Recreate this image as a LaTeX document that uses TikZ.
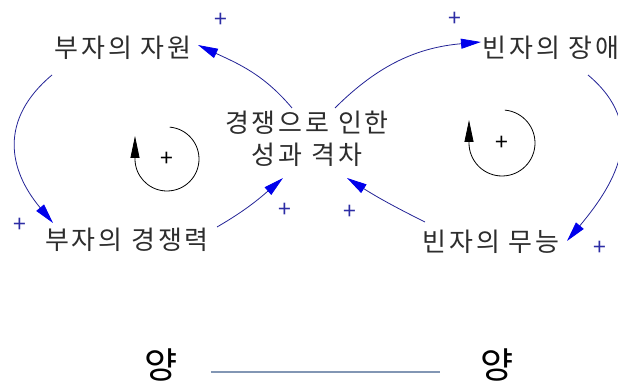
\documentclass[tikz,border=0pt]{standalone}
\usepackage{fontspec}
\newfontfamily\kr[LetterSpace=11]{Noto Sans CJK KR}
\newfontfamily\krb{Noto Sans CJK KR}
\usetikzlibrary{arrows.meta}
\definecolor{lnk}{RGB}{35,35,150}
\definecolor{tipc}{RGB}{0,0,235}
\definecolor{plc}{RGB}{45,45,165}
\definecolor{txt}{RGB}{45,45,45}
\definecolor{bar}{RGB}{130,150,180}
\begin{document}
\begin{tikzpicture}[x=1pt,y=1pt,
  lbl/.style={font=\kr\fontsize{26}{32}\selectfont, text=txt, inner sep=0pt},
  plus/.style={font=\krb\fontsize{23}{23}\selectfont, text=plc, inner sep=0pt},
  lplus/.style={font=\krb\fontsize{23}{23}\selectfont, text=black, inner sep=0pt},
  lnkarr/.style={draw=lnk, line width=0.8pt, -{Triangle[length=20pt,width=10pt,color=tipc]}},
  looparr/.style={draw=black, line width=0.8pt, -{Triangle[length=22pt,width=9pt,color=black]}},
  big/.style={font=\krb\fontsize{36}{36}\selectfont, text=black, inner sep=0pt}
]
\useasboundingbox (0,0) rectangle (618,387);
% labels
\node[lbl] (zawon) at (123,339) {부자의 자원};
\node[lbl] (gyeong) at (127,147) {부자의 경쟁력};
\node[lbl, align=center] (gap) at (307,248) {경쟁으로 인한\\성과 격차};
\node[lbl] (jange) at (551,339) {빈자의 장애};
\node[lbl] (muneung) at (491,145) {빈자의 무능};
% connectors
\draw[lnkarr] ([shift={(-15,31)}]gap.center) to[out=130,in=-25] ([shift={(75,3)}]zawon.center);
\draw[lnkarr] ([shift={(-71,-27)}]zawon.center) to[out=220,in=130,looseness=1.2] ([shift={(-74,17)}]gyeong.center);
\draw[lnkarr] ([shift={(90,13)}]gyeong.center) to[out=30,in=221] ([shift={(-24,-39)}]gap.center);
\draw[lnkarr] ([shift={(28,31)}]gap.center) to[out=45,in=185] ([shift={(-70,6)}]jange.center);
\draw[lnkarr] ([shift={(37,-27)}]jange.center) to[out=-40,in=50,looseness=1.2] ([shift={(76,1)}]muneung.center);
\draw[lnkarr] ([shift={(-66,20)}]muneung.center) to[bend left=3] ([shift={(40,-39)}]gap.center);
% polarity signs
\node[plus] (p1) at (221,367) {+};
\node[plus] (p2) at (455,368) {+};
\node[plus] (p3) at (20,162) {+};
\node[plus] (p4) at (285,177) {+};
\node[plus] (p5) at (350,175) {+};
\node[plus] (p6) at (600,139) {+};
% loop markers
\coordinate (lc) at (167,228);
\coordinate (rc) at (502,244);
\draw[looparr] ([shift={(85:32)}]lc) arc[start angle=85,end angle=-180,radius=32] -- ++(0,23);
\draw[looparr] ([shift={(85:33)}]rc) arc[start angle=85,end angle=-180,radius=33] -- ++(0,23);
\node[lplus] (lp) at (lc) {+};
\node[lplus] (rp) at (rc) {+};
% bottom
\node[big] (y1) at (161,22) {양};
\node[big] (y2) at (497,22) {양};
\draw[bar, line width=1.5pt] ([xshift=33]y1.east |- 0,15) -- ([xshift=-40]y2.west |- 0,15);
\end{tikzpicture}
\end{document}
